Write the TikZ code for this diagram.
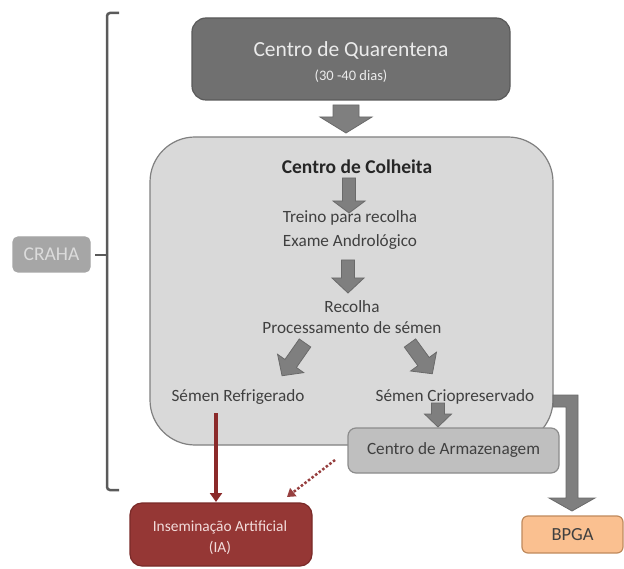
\documentclass[tikz,border=0pt]{standalone}
\usepackage{fontspec}
\setmainfont{Carlito}
\usetikzlibrary{arrows.meta}
\definecolor{quarfill}{HTML}{707070}
\definecolor{quarline}{HTML}{5A5A5A}
\definecolor{colfill}{HTML}{D9D9D9}
\definecolor{colline}{HTML}{808080}
\definecolor{arrfill}{HTML}{7F7F7F}
\definecolor{arrline}{HTML}{6A6A6A}
\definecolor{armfill}{HTML}{BFBFBF}
\definecolor{armline}{HTML}{8C8C8C}
\definecolor{crahafill}{HTML}{A6A6A6}
\definecolor{crahatext}{HTML}{DCDCDC}
\definecolor{iafill}{HTML}{953735}
\definecolor{ialine}{HTML}{7A2A28}
\definecolor{iatext}{HTML}{F2DCDB}
\definecolor{bpgafill}{HTML}{FAC090}
\definecolor{bpgaline}{HTML}{C08A5C}
\definecolor{redarrow}{HTML}{8B2A2A}
\definecolor{bracketc}{HTML}{5A5A5A}
\definecolor{txt}{HTML}{404040}
\newcommand\blockarrow[7]{%
  \begin{scope}[shift={(#1,#2)},rotate=#3]
    \filldraw[blockarrowstyle] (-#5,0) -- (#5,0) -- (#5,#4-#7) -- (#6,#4-#7) -- (0,#4) -- (-#6,#4-#7) -- (-#5,#4-#7) -- cycle;
  \end{scope}}
\tikzset{
  blockarrowstyle/.style={fill=arrfill, draw=arrline, line width=0.8pt, line join=miter},
  boxbase/.style={rectangle, inner sep=0pt, line width=1.2pt},
  intext/.style={text=txt, font=\fontsize{17.2}{20}\selectfont, inner sep=0pt},
}
\begin{document}
\begin{tikzpicture}[x=1pt,y=-1pt]
\useasboundingbox (0,0) rectangle (624,569);
\fill[white] (0,0) rectangle (624,569);

% bracket
\draw[bracketc, line width=2.5pt, rounded corners=3pt] (119,13) -- (107,13) -- (107,490) -- (119,490);
\draw[bracketc, line width=2.5pt] (95,255) -- (107,255);

% CRAHA
\node[boxbase, fill=crahafill, draw=crahafill, rounded corners=5pt, minimum width=77pt, minimum height=35pt,
      text=crahatext, font=\fontsize{19.5}{22}\selectfont] (craha) at (51.5,254.5) {CRAHA};

% Quarentena
\node[boxbase, fill=quarfill, draw=quarline, rounded corners=14pt, minimum width=318pt, minimum height=82pt] (quar) at (351,59) {};
\node[text=white!92!black, font=\fontsize{21.5}{24}\selectfont, inner sep=0pt] (quart) at (351,50) {Centro de Quarentena};
\node[text=white!92!black, font=\fontsize{14.5}{17}\selectfont, inner sep=0pt] (quars) at (351,76) {(30 -40 dias)};

% Colheita big box
\node[boxbase, fill=colfill, draw=colline, rounded corners=45pt, minimum width=403pt, minimum height=308pt] (colh) at (351.5,291) {};

% arrow quarentena -> colheita
\blockarrow{346}{105}{0}{28}{13}{26}{16}

\node[text=black!85, font=\bfseries\fontsize{19.5}{22}\selectfont, inner sep=0pt] (colht) at (357,167) {Centro de Colheita};
\blockarrow{349}{178}{0}{35}{6.5}{16}{12}
\node[intext] (treino) at (350,218) {Treino para recolha};
\node[intext] (exame) at (350,242) {Exame Andrológico};
\blockarrow{348}{260}{0}{33}{6.5}{16}{15}
\node[intext] (recolha) at (352,307) {Recolha};
\node[intext] (proc) at (352,328) {Processamento de sémen};
\blockarrow{305}{343}{-35}{40}{7}{16}{15}
\blockarrow{410}{343}{36}{38}{7}{16}{15}
\node[intext] (refr) at (238,397) {Sémen Refrigerado};
\node[intext] (crio) at (455,397) {Sémen Criopreservado};

% bend arrow to BPGA
\filldraw[blockarrowstyle] (553,395) -- (578,395) -- (578,498) -- (595,498) -- (572,511) -- (549,498) -- (566,498) -- (566,407) -- (553,407) -- cycle;

% small arrow crio -> armazenagem
\blockarrow{438}{403}{0}{24}{6.5}{13.5}{13}

% Armazenagem
\node[boxbase, fill=armfill, draw=armline, rounded corners=8pt, minimum width=211pt, minimum height=45pt,
      text=txt, font=\fontsize{17.2}{20}\selectfont] (arm) at (453.5,450.5) {Centro de Armazenagem};

% IA
\node[boxbase, fill=iafill, draw=ialine, rounded corners=12pt, minimum width=182pt, minimum height=63pt] (ia) at (221,534.5) {};
\node[text=iatext, font=\fontsize{15.4}{18}\selectfont, inner sep=0pt] (iat1) at (220,527) {Inseminação Artificial};
\node[text=iatext, font=\fontsize{15.4}{18}\selectfont, inner sep=0pt] (iat2) at (220,548) {(IA)};

% BPGA
\node[boxbase, fill=bpgafill, draw=bpgaline, rounded corners=6pt, minimum width=101pt, minimum height=37pt,
      text=txt, font=\fontsize{18.5}{21}\selectfont] (bpga) at (572.5,534.5) {BPGA};

% red arrows
\coordinate (r1) at (216,413);
\coordinate (r2) at (216,502);
\draw[redarrow, line width=4pt, -{Triangle[width=12pt,length=9pt]}] (r1) -- (r2);
\coordinate (d1) at (335,460);
\coordinate (d2) at (287,497);
\draw[redarrow!90, line width=2.5pt, dotted, -{Triangle[width=10pt,length=8pt]}] (d1) -- (d2);
\end{tikzpicture}
\end{document}
